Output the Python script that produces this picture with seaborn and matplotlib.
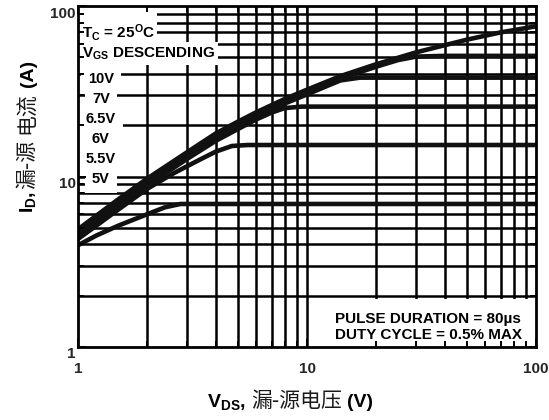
import numpy as np
import pandas as pd
import seaborn as sns
import matplotlib
matplotlib.use("Agg")
import matplotlib.pyplot as plt
from matplotlib import ticker, transforms
from matplotlib.patches import Rectangle

# Output characteristics: drain current vs drain-source voltage, one curve per gate voltage
vgs_labels = ["10V", "7V", "6.5V", "6V", "5.5V", "5V"]

vds_10v = [1, 1.5, 2, 3, 4, 5, 6, 8, 10, 14, 20, 30, 50, 70, 100]
id_10v = [4.9, 7.35, 9.7, 13.9, 17.9, 21.0, 23.8, 28.5, 32.3, 38.8, 45.5, 53.5, 63.5, 70.0, 76.0]

vds_7v = [1, 1.5, 2, 3, 4, 5, 6, 8, 10, 14, 20, 25, 30, 40, 100]
id_7v = [4.75, 7.1, 9.4, 13.5, 17.35, 20.35, 23.1, 27.6, 31.3, 37.5, 44.0, 48.2, 50.5, 51.0, 51.0]

vds_6v5 = [1, 1.5, 2, 3, 4, 5, 6, 8, 10, 12, 14, 17, 100]
id_6v5 = [4.6, 6.9, 9.15, 13.1, 16.8, 19.7, 22.4, 26.8, 30.3, 33.6, 36.6, 38.0, 38.0]

vds_6v = [1, 1.5, 2, 3, 4, 5, 6, 7, 8, 9.5, 100]
id_6v = [4.45, 6.65, 8.85, 12.7, 16.2, 19.0, 21.6, 23.7, 25.2, 25.7, 25.7]

vds_5v5 = [1, 1.5, 2, 2.6, 3, 3.5, 4, 4.7, 5.5, 100]
id_5v5 = [4.3, 6.4, 8.45, 10.4, 11.5, 12.8, 14.0, 15.1, 15.3, 15.3]

vds_5v = [1, 1.2, 1.5, 2, 2.4, 2.8, 100]
id_5v = [3.95, 4.5, 5.15, 6.0, 6.6, 6.9, 6.9]

vds_series = [vds_10v, vds_7v, vds_6v5, vds_6v, vds_5v5, vds_5v]
id_series = [id_10v, id_7v, id_6v5, id_6v, id_5v5, id_5v]

axis_ticks = [1, 10, 100]
axis_tick_labels = ["1", "10", "100"]

# ---------------------------------------------------------------- style
sns.set_theme(style="white")
plt.rcParams["font.family"] = ["Liberation Sans", "Noto Sans CJK SC", "DejaVu Sans"]
plt.rcParams["font.weight"] = "bold"
plt.rcParams["mathtext.fontset"] = "custom"
plt.rcParams["mathtext.rm"] = "Liberation Sans:bold"
plt.rcParams["mathtext.it"] = "Liberation Sans:bold"
plt.rcParams["mathtext.bf"] = "Liberation Sans:bold"
plt.rcParams["text.color"] = "black"

fig = plt.figure(figsize=(5.49, 4.20), dpi=100)
ax = fig.add_axes([78 / 549, 73 / 420, 458 / 549, 341 / 420])
ax.set_xscale("log")
ax.set_yscale("log")
ax.set_xlim(1, 100)
ax.set_ylim(1, 100)
ax.set_facecolor("white")

# full decade grid (1..9 x 10^n), drawn under the annotation boxes
grid_vals = ticker.LogLocator(base=10, subs=np.arange(1, 10)).tick_values(1, 100)
grid_vals = grid_vals[(grid_vals > 1) & (grid_vals < 100)]
for g in grid_vals:
    ax.axvline(g, color="black", lw=1.8, zorder=1)
    ax.axhline(g, color="black", lw=1.8, zorder=1)

# curves
frames = [pd.DataFrame({"VDS": vx, "ID": iy, "VGS": lab})
          for lab, vx, iy in zip(vgs_labels, vds_series, id_series)]
df = pd.concat(frames, ignore_index=True)
sns.lineplot(data=df, x="VDS", y="ID", hue="VGS", hue_order=vgs_labels,
             palette=["#111111"] * len(vgs_labels), linewidth=3.3,
             estimator=None, sort=False, legend=False, ax=ax, zorder=2)
for ln in ax.get_lines():
    ln.set_solid_capstyle("butt")
    ln.set_solid_joinstyle("round")
ax.set_xlabel("")
ax.set_ylabel("")

# spines and ticks
for sp in ax.spines.values():
    sp.set_visible(True)
    sp.set_color("black")
    sp.set_linewidth(2.0)
ax.set_axisbelow(False)
ax.tick_params(which="both", direction="in", top=True, right=True,
               bottom=True, left=True, color="black", width=1.4)
ax.tick_params(which="major", length=6)
ax.tick_params(which="minor", length=4)
ax.xaxis.set_minor_formatter(ticker.NullFormatter())
ax.yaxis.set_minor_formatter(ticker.NullFormatter())
ax.set_xticks(axis_ticks, labels=axis_tick_labels)
ax.set_yticks(axis_ticks, labels=axis_tick_labels)
ax.tick_params(axis="x", which="major", pad=10.5, labelsize=11)
ax.tick_params(axis="y", which="major", pad=1.5, labelsize=11)
shift = transforms.ScaledTranslation(0, -0.06, fig.dpi_scale_trans)
for lbl in ax.get_yticklabels():
    lbl.set_transform(lbl.get_transform() + shift)
    lbl.set_fontweight("bold")
for lbl in ax.get_xticklabels():
    lbl.set_fontweight("bold")

# annotation boxes
white = dict(facecolor="white", edgecolor="none")
ax.add_patch(Rectangle((0, 0.895), 0.172, 0.105, transform=ax.transAxes,
                       zorder=2.2, **white))
ax.add_patch(Rectangle((0.507, 0), 0.493, 0.142, transform=ax.transAxes,
                       zorder=2.2, **white))

ax.text(0.009, 0.906, r"T$_{\rm C}$ = 25$^{\rm O}$C", transform=ax.transAxes,
        fontsize=11, ha="left", va="baseline", zorder=2.3)
ax.text(0.009, 0.850, r"V$_{\rm GS}$ DESCENDING", transform=ax.transAxes,
        fontsize=11, ha="left", va="baseline", zorder=2.3,
        bbox=dict(boxstyle="square,pad=0.2", **white))
for i, lab in enumerate(vgs_labels):
    ax.text(0.050, 0.774 - i * 0.0587, lab, transform=ax.transAxes,
            fontsize=10.5, ha="center", va="baseline", zorder=2.3,
            bbox=dict(boxstyle="square,pad=0.5", **white))

ax.text(0.561, 0.0704, "PULSE DURATION = 80µs", transform=ax.transAxes,
        fontsize=11, ha="left", va="baseline", zorder=2.3)
ax.text(0.561, 0.0235, "DUTY CYCLE = 0.5% MAX", transform=ax.transAxes,
        fontsize=11, ha="left", va="baseline", zorder=2.3)

# axis titles: bold Latin parts mixed with regular CJK parts
latin = dict(fontsize=14, fontweight="bold", color="black")
cjk = dict(fontsize=15, fontweight="normal", color="#1a1a1a",
           family=["Noto Sans CJK SC", "DejaVu Sans"])


def text_run(pieces, center, baseline, vertical=False):
    renderer = fig.canvas.get_renderer()
    made = []
    total = 0.0
    for s, gap, props in pieces:
        t = fig.text(0, 0, s, transform=None, ha="left", va="baseline", **props)
        w = t.get_window_extent(renderer).width
        made.append((t, w))
        total += w + gap
    total -= pieces[-1][1]
    pos = center - total / 2
    for (t, w), (_, gap, _) in zip(made, pieces):
        if vertical:
            t.set_rotation(90)
            t.set_rotation_mode("anchor")
            t.set_position((baseline, pos))
        else:
            t.set_position((pos, baseline))
        pos += w + gap


text_run([(r"V$_{\rm DS}$,", 5, latin),
          ("漏-源电压", 5, cjk),
          ("(V)", 0, latin)], center=290, baseline=13)
text_run([(r"I$_{\rm D}$,", 1, latin),
          ("漏-源", 6, cjk),
          ("电流", 6, cjk),
          ("(A)", 0, latin)], center=420 - 136, baseline=33, vertical=True)

fig.savefig("out.png", dpi=100)
